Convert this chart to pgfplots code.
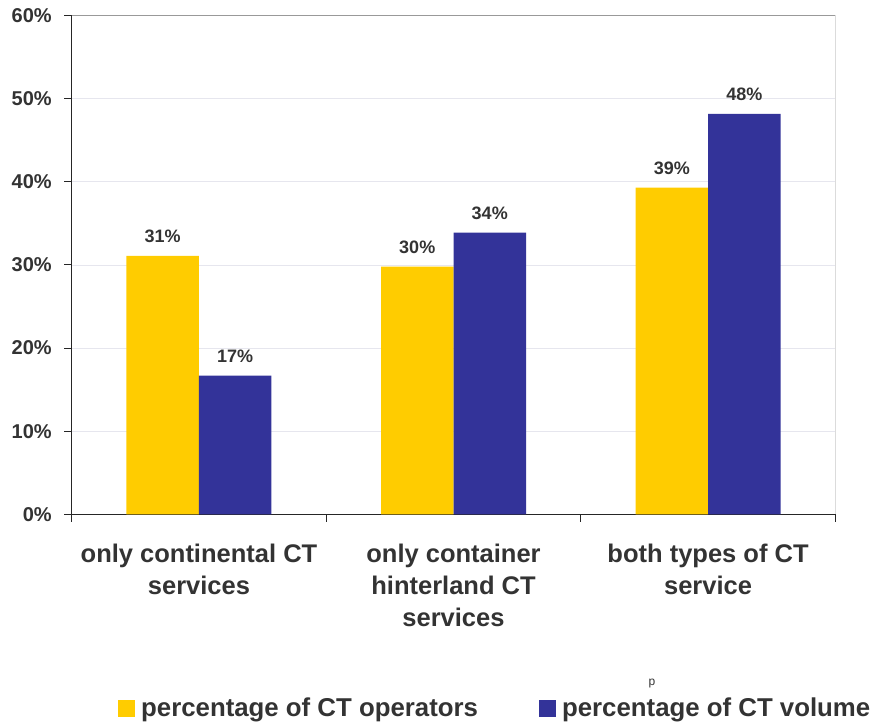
\documentclass[border=0pt]{standalone}
\usepackage{fontspec}
\setmainfont{Liberation Sans}
\usepackage{pgfplots}
\pgfplotsset{compat=1.18}
\definecolor{ylw}{HTML}{FFCC00}
\definecolor{blu}{HTML}{333399}
\definecolor{txt}{HTML}{333333}
\definecolor{grd}{HTML}{E6E6EE}
\begin{document}
\begin{tikzpicture}[x=1pt,y=1pt]
\useasboundingbox (-71.7,-207.7) rectangle (803.3,514.3);
\begin{axis}[
  scale only axis, width=763.6pt, height=498.6pt,
  ybar=0pt, bar width=72.5pt,
  xmin=-0.5, xmax=2.5, ymin=0, ymax=60,
  axis x line*=bottom, axis y line*=left,
  axis line style={draw=black!85, line width=1.1pt, -},
  xtick={-0.5,0.5,1.5,2.5}, xticklabels={},
  extra x ticks={0,1,2},
  extra x tick labels={{only continental CT\\services},{only container\\hinterland CT\\services},{both types of CT\\service}},
  extra x tick style={major tick length=0pt, grid=none},
  xticklabel style={align=center, text=txt, font=\bfseries\fontsize{25.5}{32}\selectfont, yshift=-26pt},
  ytick={0,10,...,60},
  yticklabel={\pgfmathprintnumber{\tick}\%},
  /pgf/number format/assume math mode=true,
  yticklabel style={text=txt, font=\bfseries\fontsize{20}{24}\selectfont, xshift=-9pt},
  tick align=outside, major tick length=7.5pt,
  tick style={draw=black!85, line width=1pt},
  ymajorgrids, grid style={grd, line width=0.8pt},
  nodes near coords={\pgfmathprintnumber[fixed,precision=0]{\pgfplotspointmeta}\%},
  every node near coord/.append style={text=txt, font=\bfseries\fontsize{18}{22}\selectfont, inner sep=0pt, anchor=south, yshift=13pt},
  legend columns=2,
  legend style={at={(axis description cs:0.0606,-0.3885)}, anchor=west, draw=none, fill=none, inner sep=0pt,
    font=\bfseries\fontsize{25.8}{30}\selectfont, text=txt,
    /tikz/every even column/.append style={column sep=59pt}},
]
\addplot[fill=ylw, draw=none, legend image code/.code={\fill[ylw] (0pt,-8.5pt) rectangle (17pt,8.5pt); \path (21pt,0pt);}] coordinates {(0,31.1) (1,29.8) (2,39.3)};
\addplot[fill=blu, draw=none, legend image code/.code={\fill[blu] (0pt,-8.5pt) rectangle (17pt,8.5pt); \path (21pt,0pt);}] coordinates {(0,16.7) (1,33.9) (2,48.2)};
\legend{percentage of CT operators, percentage of CT volume}
\draw[black!40, line width=1.1pt] (rel axis cs:0,1) -- (rel axis cs:1,1) -- (rel axis cs:1,0);
\end{axis}
\node[font=\fontsize{12}{14}\selectfont, text=txt] at (580.3,-169.7) {p};
\end{tikzpicture}
\end{document}
